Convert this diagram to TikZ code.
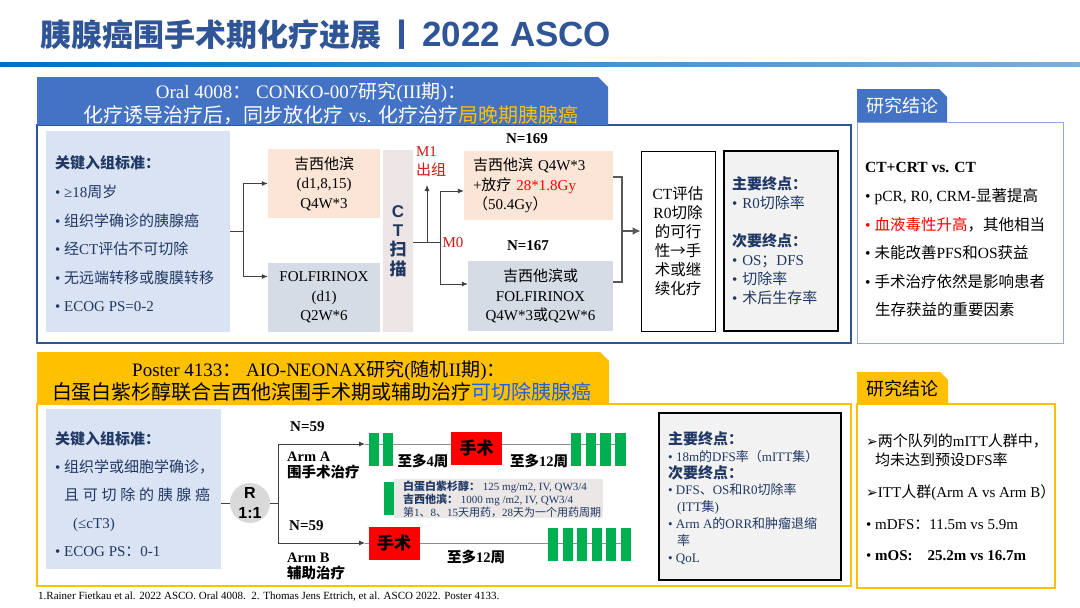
\documentclass[tikz,border=0pt]{standalone}
\usepackage{fontspec}
\setmainfont{Liberation Serif}
\newfontfamily\lsans{Liberation Sans}
\newfontfamily\cjk{Noto Sans CJK SC}
\newfontfamily\dejavu{DejaVu Sans}
\usetikzlibrary{shapes}
\usetikzlibrary{arrows.meta}

% CJK characters switch to the CJK family by themselves
\makeatletter
\begingroup\cjk\xdef\zhfam{\f@family}\endgroup
\edef\zhsaved{\rmdefault}
\def\cjkon{\ifx\f@family\zhfam\else\edef\zhsaved{\f@family}\cjk\fi}
\def\cjkoff{\ifx\f@family\zhfam\fontfamily{\zhsaved}\selectfont\fi}
\newXeTeXintercharclass\zhclass
\newcount\zhcnt
\newcount\zhbound
\ifdefined\e@alloc@intercharclass@top \zhbound=\e@alloc@intercharclass@top \else \zhbound=4095 \fi
\def\zhrange#1#2#3{\zhcnt=#1\relax
  \loop\XeTeXcharclass\zhcnt=#3\relax\ifnum\zhcnt<#2\advance\zhcnt by 1\repeat}
\zhrange{"21}{"7E}{0}
\zhrange{"2190}{"2193}{0}
\zhrange{"2264}{"2265}{0}
\XeTeXcharclass"2022=0
\XeTeXcharclass"27A2=0
\zhrange{"4E00}{"9FFF}{\zhclass}
\zhrange{"3000}{"303F}{\zhclass}
\zhrange{"FF00}{"FFEF}{\zhclass}
\XeTeXinterchartoks 0 \zhclass={\cjkon}
\XeTeXinterchartoks \zhclass 0={\cjkoff}
\XeTeXinterchartoks \zhbound \zhclass={\cjkon}
\XeTeXinterchartoks \zhclass \zhbound={\cjkoff}
\makeatother
\XeTeXinterchartokenstate=1

\definecolor{titleblue}{RGB}{47,85,151}
\definecolor{tabblue}{RGB}{68,114,196}
\definecolor{gold}{RGB}{255,192,0}
\definecolor{navy}{RGB}{32,56,100}
\definecolor{critfill}{RGB}{218,227,243}
\definecolor{peach}{RGB}{251,229,214}
\definecolor{grayblue}{RGB}{214,220,229}
\definecolor{ctfill}{RGB}{237,229,229}
\definecolor{epfill}{RGB}{242,242,242}
\definecolor{barg}{RGB}{0,176,80}
\definecolor{lgfill}{RGB}{236,231,231}
\definecolor{hlblue}{RGB}{31,95,232}
\definecolor{mred}{RGB}{210,20,20}
\definecolor{panelline}{RGB}{143,170,220}

\begin{document}
\begin{tikzpicture}[x=1pt,y=-1pt,font=\fontsize{15}{18}\selectfont,
	wire/.style={draw=black!75, line width=0.8pt},
	arr/.style={wire, -{Latex[length=6pt,width=5pt]}},
	brk/.style={draw=black!65, line width=2.2pt},
	tline/.style={draw=black!45, line width=1pt},
	gbar/.style={fill=barg, minimum width=10, minimum height=33, inner sep=0pt},
	surg/.style={fill=red, minimum width=51, minimum height=33, inner sep=0pt, font=\bfseries\fontsize{17}{20}\selectfont},
	wk/.style={font=\bfseries\fontsize{14.5}{17}\selectfont},
	nb/.style={font=\bfseries\fontsize{15}{18}\selectfont},
	txt/.style={anchor=west, inner sep=0pt, align=left}]
		\fill[white] (0,0) rectangle (1080,608);
		\useasboundingbox (0,0) rectangle (1080,608);
		% title
		\node[anchor=west, inner sep=0pt, text=titleblue, font=\bfseries\fontsize{31}{36}\selectfont] (title) at (40,35) {胰腺癌围手术期化疗进展\,丨\,{\lsans\fontsize{35}{36}\selectfont 2022 ASCO}};
		\shade[left color={rgb,255:red,0;green,112;blue,192}, right color={rgb,255:red,120;green,175;blue,225}] (0,62) rectangle (1080,66);

		% CONKO-007
		\draw[titleblue, line width=1.2pt] (37,125) rectangle (851,343);
		\fill[tabblue] (37,77) -- (598,77) -- (608,87) -- (608,125) -- (37,125) -- cycle;
		\node[text=white, font=\fontsize{19}{22}\selectfont] (h1a) at (311,92) {Oral 4008：\ CONKO-007研究(III期)：};
		\node[text=white, font=\fontsize{20}{22}\selectfont] (h1b) at (331,115) {化疗诱导治疗后，同步放化疗 vs. 化疗治疗\textcolor{gold}{局晚期胰腺癌}};

		\node[fill=critfill, minimum width=184, minimum height=201] (crit) at (138,231.5) {};
		\node[txt, text=navy, font=\fontsize{15}{28.6}\selectfont] (crittext) at (55,234) {\textbf{关键入组标准：}\\• ≥18周岁\\• 组织学确诊的胰腺癌\\• 经CT评估不可切除\\• 无远端转移或腹膜转移\\• ECOG PS=0-2};

		\node[fill=peach, minimum width=112, minimum height=69, align=center, font=\fontsize{15}{19.5}\selectfont] (gem) at (324,183.5) {吉西他滨\\(d1,8,15)\\Q4W*3};
		\node[fill=grayblue, minimum width=112, minimum height=69, align=center, font=\fontsize{15}{19.5}\selectfont] (folf) at (324,297.5) {FOLFIRINOX\\(d1)\\Q2W*6};
		\node[fill=ctfill, minimum width=30, minimum height=182, align=center, text=navy, font=\lsans\bfseries\fontsize{17}{19.3}\selectfont] (ct) at (398,241) {C\\T\\扫\\描};

		\coordinate (s1) at (243,231.5);
		\draw[wire] (crit.east) -- (s1);
		\draw[arr] (s1) |- (gem.west);
		\draw[arr] (s1) |- ([yshift=21]folf.west);

		\coordinate (mj) at (427,242);
		\coordinate (s2) at (440,242);
		\coordinate (exitpt) at (427,185);
		\draw[wire] (ct.east |- mj) -- (s2);
		\draw[arr] (mj) -- (exitpt);
		\node[text=mred, align=left, font=\fontsize{15}{19}\selectfont] (m1) at (431,162) {M1\\出组};
		\node[text=mred] (m0) at (453,243) {M0};

		\node[fill=peach, minimum width=149, minimum height=69, text width=131, align=left, font=\fontsize{15}{19.5}\selectfont] (crt) at (538.5,185.5) {吉西他滨 Q4W*3\\+放疗 \textcolor{red}{28*1.8Gy}\\（50.4Gy）};
		\node[nb] (n169) at (527,139) {N=169};
		\node[fill=grayblue, minimum width=145, minimum height=70, align=center, font=\fontsize{15}{19.5}\selectfont] (gf) at (540.5,296) {吉西他滨或\\FOLFIRINOX\\Q4W*3或Q2W*6};
		\node[nb] (n167) at (528,246) {N=167};
		\draw[arr] (s2) |- ([yshift=-5.5]crt.west);
		\draw[arr] (s2) |- ([yshift=12]gf.west);

		\node[draw=black, line width=0.8pt, fill=white, minimum width=74, minimum height=180, align=center, font=\fontsize{15.5}{19}\selectfont] (eval) at (678,241) {CT评估\\R0切除\\的可行\\性{\cjk →}手\\术或继\\续化疗};
		\coordinate (bk) at (622,231);
		\draw[brk] ([yshift=8.5]crt.east) -| (bk) |- ([yshift=14]gf.east);
		\draw[brk, -{Latex[length=8pt,width=8pt]}] (bk) -- ([yshift=10]eval.west);

		\node[draw=black, line width=1.6pt, fill=epfill, minimum width=114, minimum height=180, text width=98, align=left, text=navy, font=\fontsize{15}{19}\selectfont] (ep) at (781,241) {\textbf{主要终点：}\\• R0切除率\\[19pt]\textbf{次要终点：}\\• OS；DFS\\• 切除率\\• 术后生存率};

		% conclusions 1
		\draw[panelline, line width=1pt] (857,122) rectangle (1063,343);
		\fill[tabblue] (857,89) -- (939,89) -- (947,97) -- (947,122) -- (857,122) -- cycle;
		\node[text=white, font=\fontsize{18}{20}\selectfont] (tab1) at (902,106) {研究结论};
		\node[txt, font=\fontsize{15.5}{28.6}\selectfont] (concl1) at (865,240) {\textbf{CT+CRT vs. CT}\\• pCR, R0, CRM-显著提高\\\textcolor{red}{• 血液毒性升高}\cjkon，其他相当\\• 未能改善PFS和OS获益\\• 手术治疗依然是影响患者\\\hspace*{10pt}生存获益的重要因素};

		% AIO-NEONAX
		\draw[gold, line width=1.5pt] (37,404) rectangle (851,586);
		\fill[gold] (37,352) -- (600,352) -- (609,361) -- (609,404) -- (37,404) -- cycle;
		\node[font=\fontsize{19}{22}\selectfont] (h2a) at (319,370) {Poster 4133：\ AIO-NEONAX研究(随机II期)：};
		\node[font=\fontsize{20}{22}\selectfont] (h2b) at (322,392) {白蛋白紫杉醇联合吉西他滨围手术期或辅助治疗\textcolor{hlblue}{可切除胰腺癌}};

		\node[fill=critfill, minimum width=175, minimum height=160] (crit2) at (133.5,489) {};
		\node[txt, text=navy, font=\fontsize{15}{28}\selectfont] (crit2text) at (55,494) {\textbf{关键入组标准：}\\• 组织学或细胞学确诊，\\\hspace*{9pt}\makebox[146pt][s]{且 可 切 除 的 胰 腺 癌}\\\hspace*{18pt}(≤cT3)\\• ECOG PS：0-1};

		\node[circle, fill=black!15, minimum size=40, inner sep=0pt, align=center, font=\lsans\bfseries\fontsize{16}{20}\selectfont] (rnd) at (250,503) {R\\1:1};
		\draw[wire] (crit2.east |- rnd.west) -- (rnd.west);
		\coordinate (s3) at (278,503);
		\coordinate (ta) at (365,444);
		\coordinate (tb) at (365,543);
		\draw[wire] (rnd.east) -- (s3);
		\draw[arr] (s3) |- (ta);
		\draw[arr] (s3) |- (tb);

		\node[txt, nb] (na) at (290,427) {N=59};
		\node[txt, font=\bfseries\fontsize{14.5}{16}\selectfont] (arma) at (287,465) {Arm A\\围手术治疗};
		\node[txt, nb] (nbb) at (289,526) {N=59};
		\node[txt, font=\bfseries\fontsize{14.5}{16}\selectfont] (armb) at (287,566) {Arm B\\辅助治疗};

		% arm A timeline
		\coordinate (tae) at (626,444);
		\draw[tline] (ta) -- (tae);
		\node[gbar] (a1) at (374,449.5) {};
		\node[gbar] (a2) at (388,449.5) {};
		\node[surg] (opA) at (476.5,448.5) {手术};
		\foreach \i in {0,...,3}
			\node[gbar, minimum width=10.5] (ar\i) at (576+14.8*\i,449.5) {};
		\node[wk] (w4) at (423,461) {至多4周};
		\node[wk] (w12a) at (539,461) {至多12周};

		% legend
		\node[fill=lgfill, minimum width=209, minimum height=39] (lgbox) at (498.5,498.5) {};
		\node[gbar] (lgbar) at (389,498.5) {};
		\node[txt, text=navy, font=\fontsize{11}{13}\selectfont] (lgtext) at (403,499) {\textbf{白蛋白紫杉醇：} 125 mg/m2, IV, QW3/4\\\textbf{吉西他滨：} 1000 mg /m2, IV, QW3/4\\第1、8、15天用药，28天为一个用药周期};

		% arm B timeline
		\coordinate (tbe) at (631,543);
		\draw[tline] (tb) -- (tbe);
		\node[surg] (opB) at (394,543.5) {手术};
		\foreach \i in {0,...,5}
			\node[gbar] (br\i) at (553+14.6*\i,544.5) {};
		\node[wk] (w12b) at (476,557) {至多12周};

		\node[draw=black, line width=1.6pt, fill=epfill, minimum width=182, minimum height=167] (ep2) at (750,496.5) {};
		\node[txt, text=navy, font=\fontsize{13}{16.9}\selectfont] (ep2text) at (668,498) {{\fontsize{15}{17}\selectfont\bfseries 主要终点：}\\• 18m的DFS率（mITT集）\\{\fontsize{15}{17}\selectfont\bfseries 次要终点：}\\• DFS、OS和R0切除率\\\hspace*{9pt}(ITT集)\\• Arm A的ORR和肿瘤退缩\\\hspace*{9pt}率\\• QoL};

		% conclusions 2
		\draw[gold, line width=1.5pt] (857,404) rectangle (1055,588);
		\fill[gold] (857,372) -- (940,372) -- (948,380) -- (948,404) -- (857,404) -- cycle;
		\node[font=\fontsize{18}{20}\selectfont] (tab2) at (902,389) {研究结论};
		\node[txt, font=\fontsize{15}{19}\selectfont] (concl2) at (866,497) {{\dejavu\fontsize{14}{14}\selectfont ➢}两个队列的mITT人群中，\\\hspace*{9pt}均未达到预设DFS率\\[13pt]{\dejavu\fontsize{14}{14}\selectfont ➢}ITT人群(Arm A vs Arm B）\\[13pt]• mDFS：11.5m vs 5.9m\\[12pt]• \textbf{mOS:\quad 25.2m vs 16.7m}};

		\node[txt, font=\fontsize{11}{13}\selectfont] (foot) at (38,597) {1.Rainer Fietkau et al. 2022 ASCO. Oral 4008.\ \ 2. Thomas Jens Ettrich, et al. ASCO 2022. Poster 4133.};
	\end{tikzpicture}
\end{document}
